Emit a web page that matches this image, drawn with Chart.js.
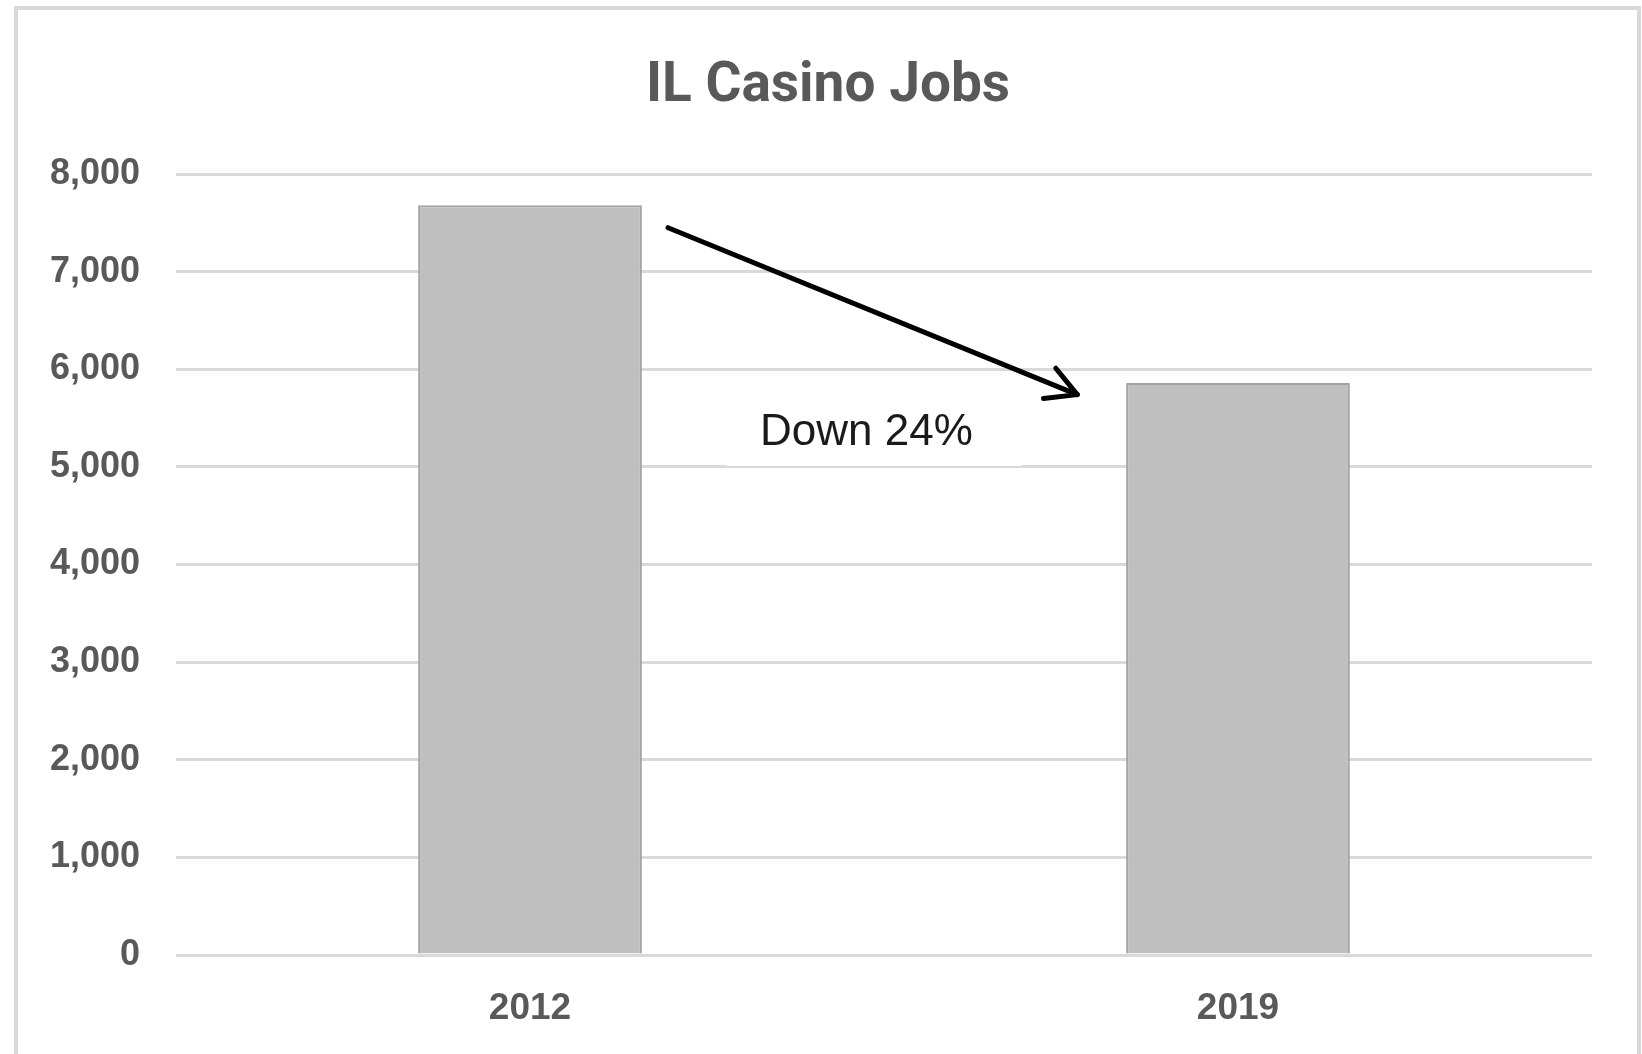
<!DOCTYPE html>
<html>
<head>
<meta charset="utf-8">
<script src="https://cdn.jsdelivr.net/npm/chart.js@4"></script>
<style>
  html, body { margin: 0; padding: 0; background: #ffffff; }
  #wrap { width: 1642px; height: 1054px; }
</style>
</head>
<body>
<div id="wrap"><canvas id="c" width="1642" height="1054"></canvas></div>
<script>
// ---- Data ----
const categories = ['2012', '2019'];
const jobs = [7680, 5860];
const yMin = 0;
const yMax = 8000;
const yStep = 1000;
const chartTitle = 'IL Casino Jobs';
const noteText = 'Down 24%';
// annotation anchor points in data units: [category index, value]
const arrowFrom = [0.195, 7450];
const arrowTo = [0.773, 5740];
const noteBoxFrom = [0.278, 5780];
const noteBoxTo = [0.695, 5010];

const grey = '#595959';

const decorPlugin = {
  id: 'decor',
  beforeDraw(chart) {
    const ctx = chart.ctx;
    ctx.save();
    ctx.fillStyle = '#ffffff';
    ctx.fillRect(0, 0, chart.width, chart.height);
    ctx.strokeStyle = '#d9d9d9';
    ctx.lineWidth = 4;
    ctx.strokeRect(16, 8, 1623, 1100);
    ctx.restore();
  },
  afterDatasetsDraw(chart) {
    const ctx = chart.ctx;
    const xs = chart.scales.x, ys = chart.scales.y;
    const px = v => xs.getPixelForValue(v);
    const py = v => ys.getPixelForValue(v);
    ctx.save();
    const bx0 = px(noteBoxFrom[0]), by0 = py(noteBoxFrom[1]);
    const bx1 = px(noteBoxTo[0]), by1 = py(noteBoxTo[1]);
    ctx.fillStyle = '#ffffff';
    ctx.fillRect(bx0, by0, bx1 - bx0, by1 - by0);
    ctx.fillStyle = '#1a1a1a';
    ctx.font = '44px "Liberation Sans", Arial, sans-serif';
    ctx.textAlign = 'center';
    ctx.textBaseline = 'alphabetic';
    ctx.fillText(noteText, (bx0 + bx1) / 2 - 8, by1 - 21);
    const x0 = px(arrowFrom[0]), y0 = py(arrowFrom[1]);
    const x1 = px(arrowTo[0]), y1 = py(arrowTo[1]);
    ctx.strokeStyle = '#000000';
    ctx.lineWidth = 5;
    ctx.lineCap = 'round';
    ctx.lineJoin = 'round';
    ctx.beginPath();
    ctx.moveTo(x0, y0);
    ctx.lineTo(x1, y1);
    ctx.stroke();
    const ang = Math.atan2(y1 - y0, x1 - x0);
    const L = 34, spread = 0.5;
    ctx.beginPath();
    ctx.moveTo(x1 - L * Math.cos(ang - spread), y1 - L * Math.sin(ang - spread));
    ctx.lineTo(x1, y1);
    ctx.lineTo(x1 - L * Math.cos(ang + spread), y1 - L * Math.sin(ang + spread));
    ctx.stroke();
    ctx.restore();
  }
};

new Chart(document.getElementById('c'), {
  type: 'bar',
  data: {
    labels: categories,
    datasets: [{
      data: jobs,
      backgroundColor: '#bfbfbf',
      borderColor: '#a3a3a3',
      borderWidth: 2,
      categoryPercentage: 1,
      barPercentage: 0.316
    }]
  },
  options: {
    responsive: false,
    animation: false,
    devicePixelRatio: 1,
    layout: { padding: { left: 14, right: 0, top: 0, bottom: 0 } },
    plugins: {
      legend: { display: false },
      tooltip: { enabled: false },
      title: {
        display: true,
        text: chartTitle,
        color: grey,
        font: { family: 'Roboto', size: 55, weight: 'bold' },
        padding: { top: 54, bottom: 54 }
      }
    },
    scales: {
      x: {
        grid: { display: false, drawTicks: false },
        border: { display: false },
        ticks: {
          color: grey,
          font: { family: 'Liberation Sans', size: 37, weight: 'bold' },
          padding: 32
        },
        afterFit(scale) { scale.height = 99; }
      },
      y: {
        min: yMin,
        max: yMax,
        grid: { color: '#d9d9d9', lineWidth: 3, drawTicks: false },
        border: { display: false },
        ticks: {
          stepSize: yStep,
          color: grey,
          font: { family: 'Liberation Sans', size: 36, weight: 'bold' },
          padding: 36,
          callback: v => v.toLocaleString('en-US')
        },
        afterFit(scale) { scale.width = 162; }
      },
      yR: {
        position: 'right',
        min: yMin,
        max: yMax,
        grid: { display: false, drawTicks: false },
        border: { display: false },
        ticks: { display: false },
        afterFit(scale) { scale.width = 50; }
      }
    }
  },
  plugins: [decorPlugin]
});
</script>
</body>
</html>
